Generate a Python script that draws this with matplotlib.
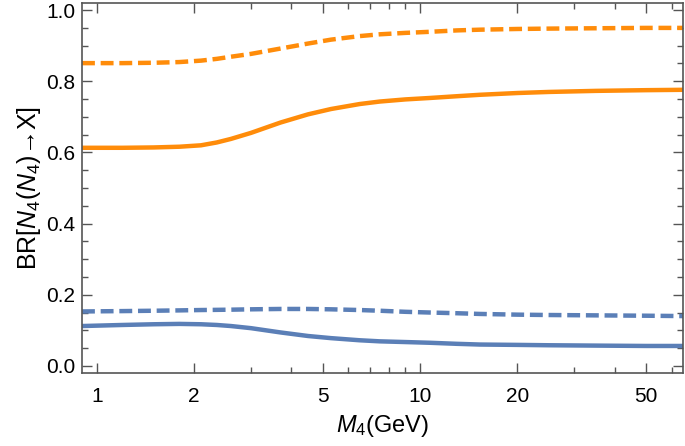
import matplotlib
matplotlib.use("Agg")
import matplotlib.pyplot as plt
from matplotlib.ticker import FixedLocator, NullFormatter, FixedFormatter, MultipleLocator

# values
mass = [0.9, 1.2, 1.5, 1.8, 2.1, 2.35, 2.6, 3.0, 3.7, 4.5, 5.3, 6.5, 7.5, 9, 10.7,
        13, 15.3, 20, 25, 35, 50, 65]
orange_dashed = [0.851, 0.851, 0.852, 0.854, 0.858, 0.863, 0.869, 0.877, 0.892, 0.906,
                 0.917, 0.927, 0.932, 0.936, 0.939, 0.943, 0.945, 0.947, 0.948,
                 0.949, 0.950, 0.950]
orange_solid = [0.613, 0.613, 0.614, 0.616, 0.620, 0.628, 0.638, 0.655, 0.684, 0.707,
                0.722, 0.736, 0.743, 0.749, 0.753, 0.758, 0.762, 0.767, 0.770,
                0.773, 0.775, 0.776]
blue_dashed = [0.153, 0.154, 0.155, 0.156, 0.157, 0.1575, 0.158, 0.159, 0.160, 0.160,
               0.159, 0.157, 0.155, 0.152, 0.150, 0.148, 0.146, 0.144, 0.143,
               0.142, 0.141, 0.140]
blue_solid = [0.112, 0.115, 0.117, 0.118, 0.117, 0.115, 0.112, 0.106, 0.094, 0.084,
              0.078, 0.072, 0.069, 0.067, 0.065, 0.062, 0.060, 0.059, 0.058,
              0.057, 0.056, 0.056]

x_major = [1, 2, 5, 10, 20, 50]
x_labels = ["1", "2", "5", "10", "20", "50"]
x_minor = [3, 4, 6, 7, 8, 9, 30, 40, 60]

ORANGE = "#FF8C0A"
BLUE = "#5B7FB7"
FRAME = "#555555"

plt.rcParams["font.family"] = ["Liberation Sans", "DejaVu Sans"]
plt.rcParams["mathtext.fontset"] = "custom"
plt.rcParams["mathtext.it"] = "Liberation Sans:italic"
plt.rcParams["mathtext.rm"] = "Liberation Sans"

fig = plt.figure(figsize=(6.85, 4.46), dpi=100)
ax = fig.add_axes([82 / 685, 73 / 446, 601 / 685, 370 / 446])

lw = 3.2
ax.plot(mass, orange_dashed, color=ORANGE, lw=lw, dashes=(2.9, 1.3))
ax.plot(mass, orange_solid, color=ORANGE, lw=lw)
ax.plot(mass, blue_dashed, color=BLUE, lw=lw, dashes=(2.9, 1.3))
ax.plot(mass, blue_solid, color=BLUE, lw=lw)

ax.set_xscale("log")
ax.set_xlim(0.9, 65)
ax.set_ylim(-0.02, 1.02)

ax.xaxis.set_major_locator(FixedLocator(x_major))
ax.xaxis.set_major_formatter(FixedFormatter(x_labels))
ax.xaxis.set_minor_locator(FixedLocator(x_minor))
ax.xaxis.set_minor_formatter(NullFormatter())
ax.yaxis.set_major_locator(MultipleLocator(0.2))
ax.yaxis.set_minor_locator(MultipleLocator(0.05))
ax.yaxis.set_major_formatter(matplotlib.ticker.FormatStrFormatter("%.1f"))

ax.tick_params(which="both", direction="in", top=True, right=True,
               color=FRAME, width=1.0, labelsize=15, labelcolor="black")
ax.tick_params(axis="x", which="major", length=7, pad=10)
ax.tick_params(axis="y", which="major", length=7, pad=5)
ax.tick_params(which="minor", length=4)
for s in ax.spines.values():
    s.set_color(FRAME)
    s.set_linewidth(1.2)

ax.set_xlabel(r"$M_4$(GeV)", fontsize=17, labelpad=5)
ax.set_ylabel("BR[$N_4$($N_4$)→X]", fontsize=18, labelpad=2)

fig.savefig("out.png", dpi=100)
